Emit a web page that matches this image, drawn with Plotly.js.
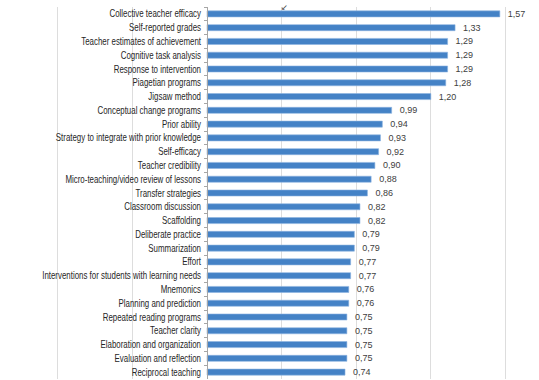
<!DOCTYPE html>
<html>
<head>
<meta charset="utf-8">
<script src="https://cdn.plot.ly/plotly-3.0.1.min.js"></script>
<style>html,body{margin:0;padding:0;background:#fff;}#chart{width:539px;height:380px;}</style>
</head>
<body>
<div id="chart"></div>
<script>
const categories = [
  "Collective teacher efficacy",
  "Self-reported grades",
  "Teacher estimates of achievement",
  "Cognitive task analysis",
  "Response to intervention",
  "Piagetian programs",
  "Jigsaw method",
  "Conceptual change programs",
  "Prior ability",
  "Strategy to integrate with prior knowledge",
  "Self-efficacy",
  "Teacher credibility",
  "Micro-teaching/video review of lessons",
  "Transfer strategies",
  "Classroom discussion",
  "Scaffolding",
  "Deliberate practice",
  "Summarization",
  "Effort",
  "Interventions for students with learning needs",
  "Mnemonics",
  "Planning and prediction",
  "Repeated reading programs",
  "Teacher clarity",
  "Elaboration and organization",
  "Evaluation and reflection",
  "Reciprocal teaching"
];
const effectSizes = [1.57, 1.33, 1.29, 1.29, 1.29, 1.28, 1.20, 0.99, 0.94, 0.93, 0.92, 0.90, 0.88, 0.86, 0.82, 0.82, 0.79, 0.79, 0.77, 0.77, 0.76, 0.76, 0.75, 0.75, 0.75, 0.75, 0.74];

const trace = {
  type: 'bar',
  orientation: 'h',
  y: categories,
  x: effectSizes,
  marker: {color: '#4482C6', line: {color: '#8DB3E0', width: 0.6}},
  texttemplate: '\u00a0\u00a0%{x:.2f}',
  textposition: 'outside',
  constraintext: 'none',
  textfont: {family: 'Liberation Sans, Arial, sans-serif', size: 9, color: '#404040'},
  cliponaxis: false,
  hoverinfo: 'none'
};

const layout = {
  width: 539, height: 380,
  margin: {l: 0, r: 0, t: 7, b: 1, pad: 0},
  paper_bgcolor: '#ffffff', plot_bgcolor: '#ffffff',
  separators: ',.',
  bargap: 0.56,
  showlegend: false,
  xaxis: {
    range: [-1.11, 1.78], dtick: 0.4, tick0: 0,
    showticklabels: false, showgrid: true, gridcolor: '#DDDDDD', gridwidth: 1,
    zeroline: false, showline: false, fixedrange: true
  },
  yaxis: {
    type: 'category', range: [26.5, -0.5],
    anchor: 'free', position: 207/539,
    showline: true, linecolor: '#A6A6A6', linewidth: 1,
    ticks: 'outside', ticklen: 3, tickcolor: '#A6A6A6', tickson: 'boundaries',
    ticklabelstandoff: 4,
    showgrid: false, zeroline: false,
    tickfont: {family: 'Liberation Sans, Arial, sans-serif', size: 10, color: '#262626'},
    automargin: false, fixedrange: true
  },
  annotations: [{
    text: '\u2199', xref: 'paper', yref: 'paper', x: 284/539, y: 1, yanchor: 'top', yshift: 8,
    showarrow: false, font: {size: 8, color: '#333333'}
  }]
};

function narrowLabels() {
  document.querySelectorAll('#chart .ytick text').forEach(function (t) {
    const xr = parseFloat(t.getAttribute('x')) || 0;
    const base = t.getAttribute('data-base-transform') !== null ? t.getAttribute('data-base-transform') : (t.getAttribute('transform') || '');
    t.setAttribute('data-base-transform', base);
    t.setAttribute('transform', base + ' translate(' + xr + ',0) scale(0.79,1) translate(' + (-xr) + ',0)');
  });
}

Plotly.newPlot('chart', [trace], layout, {displayModeBar: false, staticPlot: true}).then(narrowLabels);
</script>
</body>
</html>
